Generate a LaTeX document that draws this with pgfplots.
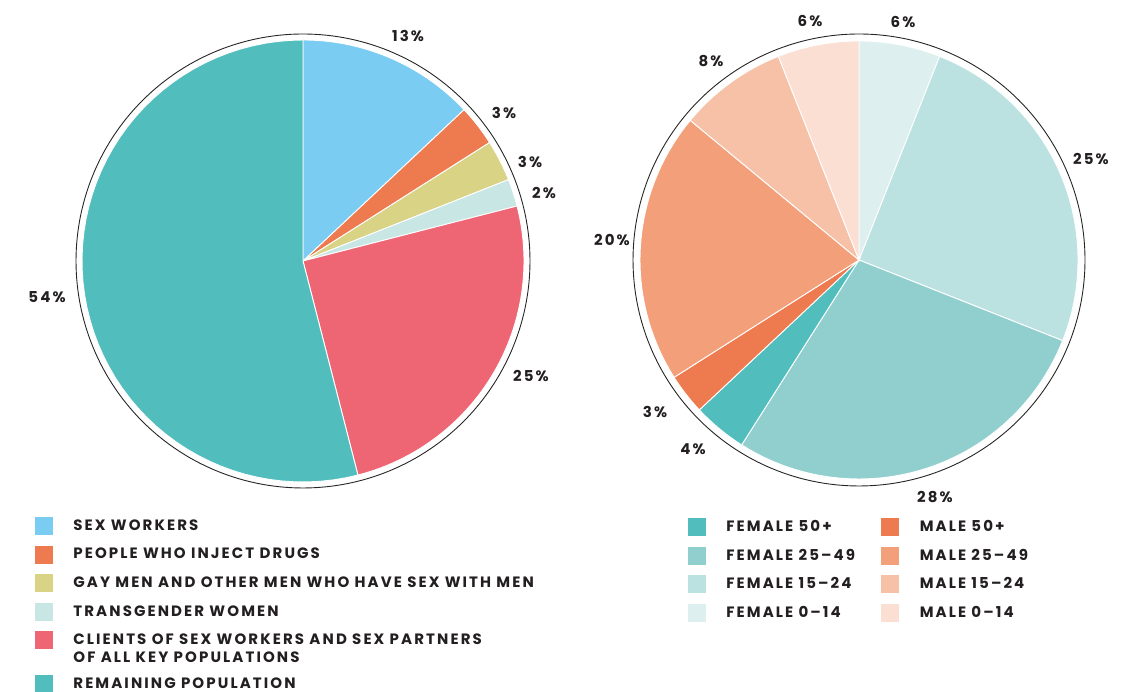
\documentclass[border=0pt]{standalone}
\usepackage{fontspec}
\setmainfont{Poppins}
\newfontfamily\labfont[LetterSpace=14, BoldFont={Poppins Bold}]{Poppins}
\usepackage{pgfplots}
\pgfplotsset{compat=1.18}
\definecolor{cSW}{HTML}{7ACCF2}
\definecolor{cPWID}{HTML}{EE7A50}
\definecolor{cGAY}{HTML}{D9D386}
\definecolor{cTG}{HTML}{C8E6E4}
\definecolor{cCL}{HTML}{EE6574}
\definecolor{cREM}{HTML}{52BDBD}
\definecolor{cF50}{HTML}{52BDBD}
\definecolor{cF25}{HTML}{91CFCF}
\definecolor{cF15}{HTML}{BBE1E1}
\definecolor{cF00}{HTML}{DDEFEF}
\definecolor{cM50}{HTML}{EE7A50}
\definecolor{cM25}{HTML}{F3A07A}
\definecolor{cM15}{HTML}{F7C1A7}
\definecolor{cM00}{HTML}{FADFD2}
\definecolor{txt}{HTML}{231F20}
% #1 cx, #2 cy, #3 radius, #4 cumulative start (%), #5 value (%), #6 colour
\newcommand{\pieslice}[6]{%
  \pgfmathsetmacro\angA{90-3.6*(#4+#5)}%
  \pgfmathsetmacro\angB{90-3.6*(#4)}%
  \addplot[fill=#6, draw=white, line width=0.9pt, domain=\angA:\angB, samples=60, forget plot]
    ({#1+#3*cos(x)},{#2+#3*sin(x)}) -- (axis cs:#1,#2) -- cycle;
}
\newcommand{\piering}[3]{%
  \addplot[draw=black!85, line width=0.9pt, domain=0:360, samples=241, forget plot]
    ({#1+#3*cos(x)},{#2+#3*sin(x)});
}
\pgfplotsset{
  canvas/.style={
    at={(0,0)}, anchor=south west,
    x=1pt, y=1pt, xmin=0, xmax=1128, ymin=0, ymax=692,
    hide axis, clip=false,
    legend cell align=left,
    legend image code/.code={\fill[##1] (0pt,-8.5pt) rectangle (17pt,8.5pt);},
  },
  tallimg/.style={legend image code/.code={\path[draw=none,fill=none] (0pt,-8.5pt) rectangle (17pt,24pt); \fill[##1] (0pt,-8.5pt) rectangle (17pt,8.5pt);}},
  legfont/.style={font=\labfont\bfseries\fontsize{15}{17}\selectfont},
}
\newcommand{\pct}[1]{{\labfont\bfseries\fontsize{15}{17}\selectfont\color{txt}#1}}
\begin{document}
\begin{tikzpicture}
% ---------- left pie ----------
\begin{axis}[canvas,
  legend style={at={(35/1128,175/692)}, anchor=north west, draw=none, fill=none,
    inner sep=0pt, outer sep=0pt, row sep=11.2pt,
    nodes={inner sep=0pt, text=txt}, legfont,
    /tikz/every odd column/.append style={column sep=21pt}},
]
\pieslice{303}{431}{221}{0}{13}{cSW}
\pieslice{303}{431}{221}{13}{3}{cPWID}
\pieslice{303}{431}{221}{16}{3}{cGAY}
\pieslice{303}{431}{221}{19}{2}{cTG}
\pieslice{303}{431}{221}{21}{25}{cCL}
\pieslice{303}{431}{221}{46}{54}{cREM}
\piering{303}{431}{227}
\node at (axis cs:408,656) {\pct{13\%}};
\node at (axis cs:504,579) {\pct{3\%}};
\node at (axis cs:530,530) {\pct{3\%}};
\node at (axis cs:544,499) {\pct{2\%}};
\node at (axis cs:531,316) {\pct{25\%}};
\node at (axis cs:47,395) {\pct{54\%}};
\addlegendimage{cSW}\addlegendentry{SEX WORKERS}
\addlegendimage{cPWID}\addlegendentry{PEOPLE WHO INJECT DRUGS}
\addlegendimage{cGAY}\addlegendentry{GAY MEN AND OTHER MEN WHO HAVE SEX WITH MEN}
\addlegendimage{cTG}\addlegendentry{TRANSGENDER WOMEN}
\addlegendimage{cCL}\addlegendentry{\raisebox{0pt}[\height][0pt]{\parbox[t]{500pt}{\baselineskip=18pt CLIENTS OF SEX WORKERS AND SEX PARTNERS\\OF ALL KEY POPULATIONS}}}
\addlegendimage{cREM, tallimg}\addlegendentry{REMAINING POPULATION}
\end{axis}
% ---------- right pie ----------
\begin{axis}[canvas,
  legend columns=2,
  legend style={at={(688/1128,174/692)}, anchor=north west, draw=none, fill=none,
    inner sep=0pt, outer sep=0pt, row sep=11.3pt,
    nodes={inner sep=0pt, text=txt}, legfont,
    /tikz/every odd column/.append style={column sep=21pt}},
]
\pieslice{859}{432}{219}{0}{6}{cF00}
\pieslice{859}{432}{219}{6}{25}{cF15}
\pieslice{859}{432}{219}{31}{28}{cF25}
\pieslice{859}{432}{219}{59}{4}{cF50}
\pieslice{859}{432}{219}{63}{3}{cM50}
\pieslice{859}{432}{219}{66}{20}{cM25}
\pieslice{859}{432}{219}{86}{8}{cM15}
\pieslice{859}{432}{219}{94}{6}{cM00}
\piering{859}{432}{226}
\node at (axis cs:810,671) {\pct{6\%}};
\node at (axis cs:903,670) {\pct{6\%}};
\node at (axis cs:711,631) {\pct{8\%}};
\node at (axis cs:1091,533) {\pct{25\%}};
\node at (axis cs:612,452) {\pct{20\%}};
\node at (axis cs:655,280) {\pct{3\%}};
\node at (axis cs:693,243) {\pct{4\%}};
\node at (axis cs:935,195) {\pct{28\%}};
\addlegendimage{cF50}\addlegendentry{\makebox[155pt][l]{FEMALE 50+}}
\addlegendimage{cM50}\addlegendentry{MALE 50+}
\addlegendimage{cF25}\addlegendentry{\makebox[155pt][l]{FEMALE 25–49}}
\addlegendimage{cM25}\addlegendentry{MALE 25–49}
\addlegendimage{cF15}\addlegendentry{\makebox[155pt][l]{FEMALE 15–24}}
\addlegendimage{cM15}\addlegendentry{MALE 15–24}
\addlegendimage{cF00}\addlegendentry{\makebox[155pt][l]{FEMALE 0–14}}
\addlegendimage{cM00}\addlegendentry{MALE 0–14}
\end{axis}
\pgfresetboundingbox
\useasboundingbox (0,0) rectangle (1128pt,692pt);
\end{tikzpicture}
\end{document}
